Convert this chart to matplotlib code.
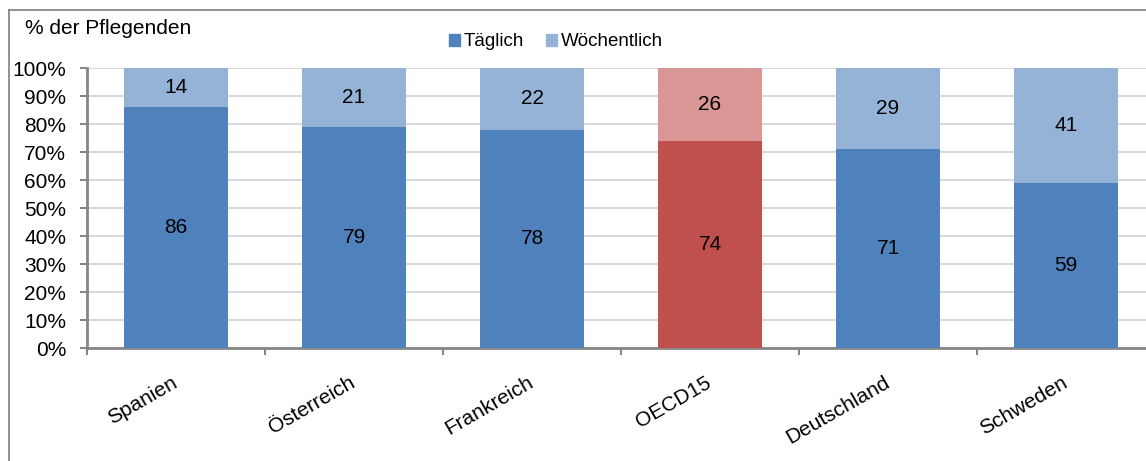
import matplotlib.pyplot as plt
from matplotlib.lines import Line2D
from matplotlib.patches import Patch
import numpy as np

plt.rcParams['font.family'] = ['Liberation Sans', 'DejaVu Sans']

# data
laender = ["Spanien", "Österreich", "Frankreich", "OECD15", "Deutschland", "Schweden"]
taeglich = [86, 79, 78, 74, 71, 59]
woechentlich = [14, 21, 22, 26, 29, 41]

blau_dunkel = "#4F81BD"
blau_hell = "#95B3D7"
rot_dunkel = "#C0504D"
rot_hell = "#D99694"

W, H = 1146, 461
fig = plt.figure(figsize=(W / 100, H / 100), dpi=100)
ax = fig.add_axes([87 / W, 1 - 348 / H, 1068 / W, 280 / H])

x = np.arange(len(laender))
farben1 = [rot_dunkel if l == "OECD15" else blau_dunkel for l in laender]
farben2 = [rot_hell if l == "OECD15" else blau_hell for l in laender]

ax.bar(x, taeglich, width=0.585, color=farben1, zorder=3)
ax.bar(x, woechentlich, width=0.585, bottom=taeglich, color=farben2, zorder=3)

for i in range(len(laender)):
    ax.text(x[i], taeglich[i] / 2, str(taeglich[i]), ha="center", va="center",
            fontsize=15, zorder=4)
    ax.text(x[i], taeglich[i] + woechentlich[i] / 2, str(woechentlich[i]),
            ha="center", va="center", fontsize=15, zorder=4)

ax.set_xlim(-0.5, len(laender) - 0.5)
ax.set_ylim(0, 100)
ax.set_yticks(np.arange(0, 101, 10))
ax.set_yticklabels([f"{v}%" for v in range(0, 101, 10)], fontsize=15)
ax.yaxis.grid(True, color="#D9D9D9", linewidth=1.5, zorder=0)
ax.set_axisbelow(True)

ax.set_xticks(x)
ax.set_xticklabels(laender, rotation=30, ha="right", va="center",
                   rotation_mode="anchor", fontsize=15)
ax.tick_params(axis="x", length=0, pad=24)
ax.set_xticks(np.arange(-0.5, len(laender)), minor=True)
ax.tick_params(axis="x", which="minor", length=5, width=1.5, color="#868686")
ax.tick_params(axis="y", length=5, width=1.5, color="#868686", pad=10)

for s in ["top", "right"]:
    ax.spines[s].set_visible(False)
for s in ["left", "bottom"]:
    ax.spines[s].set_color("#868686")
    ax.spines[s].set_linewidth(2)

fig.text(25 / W, 1 - 28 / H, "% der Pflegenden", fontsize=15, ha="left", va="center")

handles = [Patch(color=blau_dunkel), Patch(color=blau_hell)]
fig.legend(handles, ["Täglich", "Wöchentlich"], loc="center",
           bbox_to_anchor=(556 / W, 1 - 42 / H), ncol=2, frameon=False,
           fontsize=13.5, handlelength=0.55, handleheight=0.55, handletextpad=0.2,
           columnspacing=1.2)

# Rahmen
fig.add_artist(Line2D([9 / W, 1], [1 - 10 / H, 1 - 10 / H], color="#7F7F7F", lw=1.2))
fig.add_artist(Line2D([9 / W, 9 / W], [0, 1 - 10 / H], color="#7F7F7F", lw=1.2))

fig.savefig("out.png", dpi=100)
